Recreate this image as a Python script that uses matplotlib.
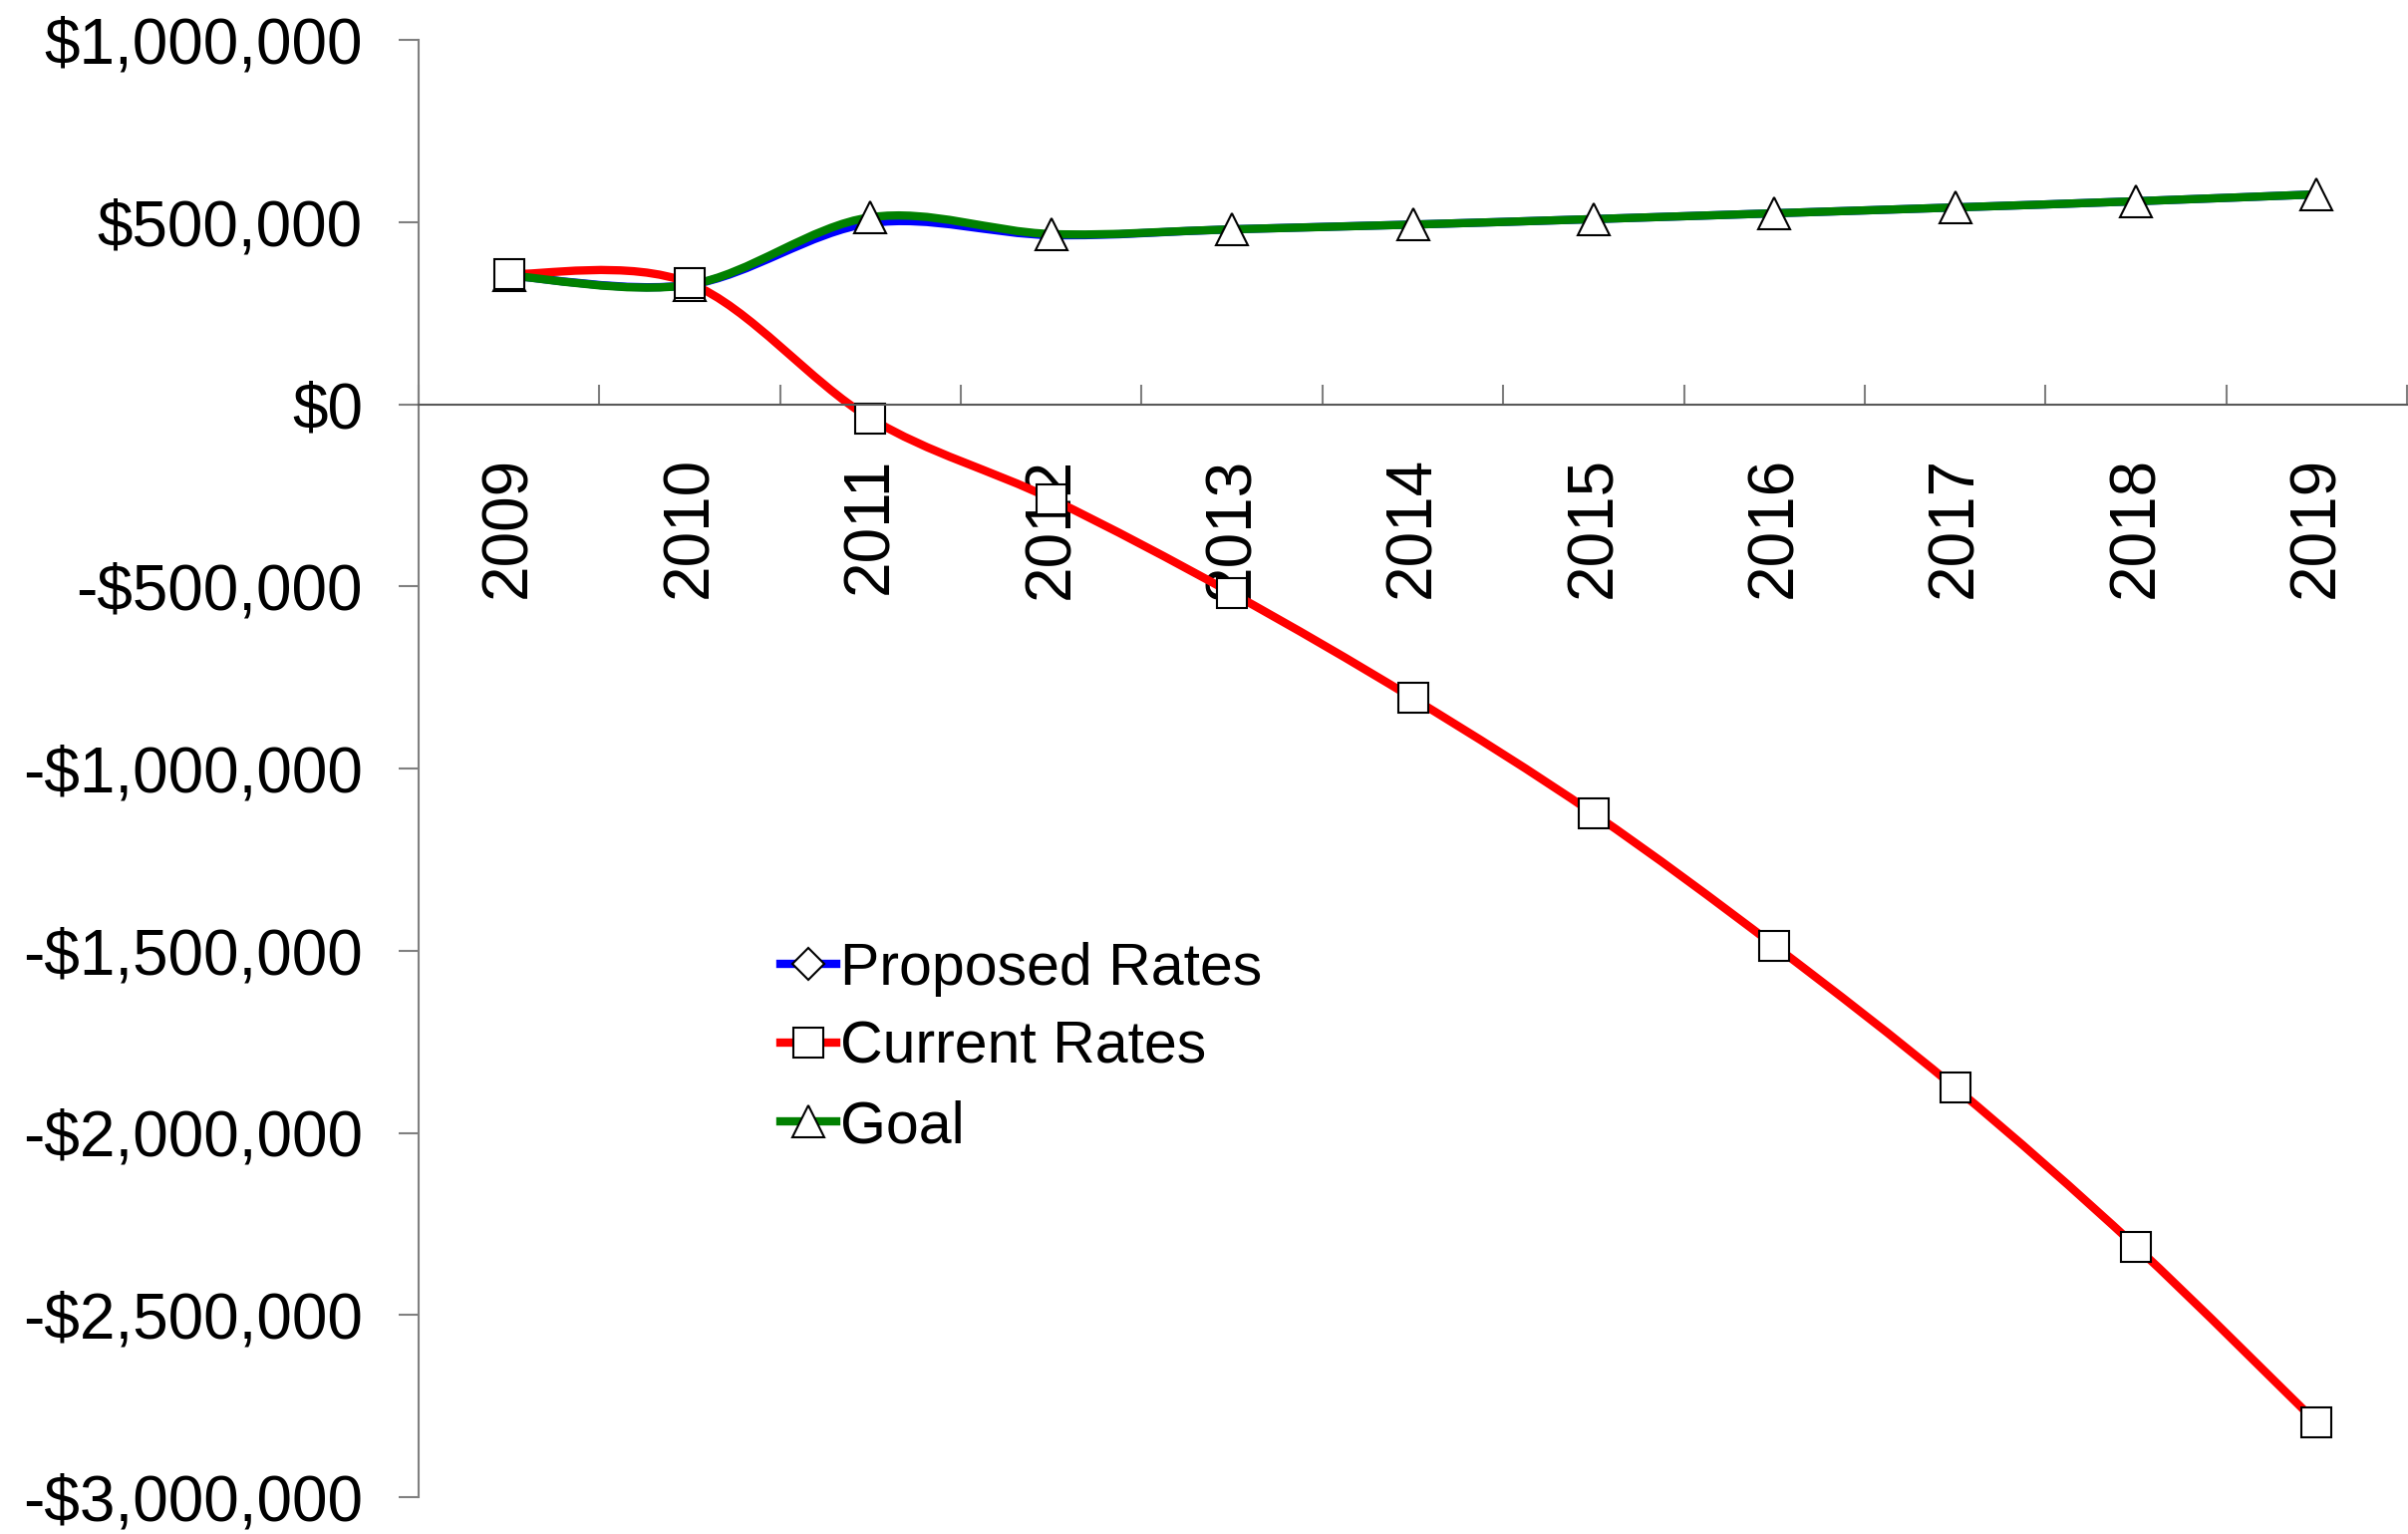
import numpy as np
import matplotlib
matplotlib.use('Agg')
import matplotlib.pyplot as plt
from matplotlib.path import Path
from matplotlib.patches import PathPatch
from matplotlib.lines import Line2D
from matplotlib.ticker import FuncFormatter

plt.rcParams['font.family'] = ['Liberation Sans', 'DejaVu Sans']

# Values (dollars)
years = ['2009', '2010', '2011', '2012', '2013', '2014', '2015', '2016', '2017', '2018', '2019']
proposed = [353000, 328000, 497000, 464000, 480000, 493000, 508000, 524000, 540000, 557000, 576000]
current = [357000, 332000, -39000, -260000, -519000, -807000, -1124000, -1486000, -1876000, -2312000, -2795000]
goal = [353000, 328000, 513000, 467000, 480000, 493000, 508000, 524000, 540000, 557000, 576000]

FS = 46
LEG_FS = 42.5


def smooth_path(xs, ys):
    # Excel-style smoothed line: Catmull-Rom segments as cubic Beziers
    pts = np.column_stack([xs, ys]).astype(float)
    n = len(pts)
    verts = [pts[0]]
    codes = [Path.MOVETO]
    for i in range(n - 1):
        p0 = pts[i - 1] if i > 0 else pts[i]
        p1 = pts[i]
        p2 = pts[i + 1]
        p3 = pts[i + 2] if i + 2 < n else pts[i + 1]
        verts += [p1 + (p2 - p0) / 6.0, p2 - (p3 - p1) / 6.0, p2]
        codes += [Path.CURVE4] * 3
    return Path(verts, codes)


def money(v, pos):
    v = int(round(v))
    if v < 0:
        return '-${:,}'.format(-v)
    return '${:,}'.format(v)


fig = plt.figure(figsize=(24.16, 15.39), dpi=100)
ax = fig.add_axes([420 / 2416, 1 - 1502 / 1539, 1995 / 2416, 1462 / 1539])

x = np.arange(len(years))
LW = 6

for vals, col, z in [(proposed, '#0000FF', 2.0), (current, '#FF0000', 2.1), (goal, '#008000', 2.2)]:
    ax.add_patch(PathPatch(smooth_path(x, vals), fill=False, edgecolor=col, lw=LW,
                           capstyle='butt', joinstyle='round', zorder=z))

ax.plot(x, goal, ls='none', marker='^', ms=23, mfc='white', mec='black', mew=1.5, zorder=2.3)
ax.plot(x, current, ls='none', marker='s', ms=22, mfc='white', mec='black', mew=1.5, zorder=2.4)

ax.set_xlim(-0.5, 10.5)
ax.set_ylim(-3000000, 1000000)

for s in ['top', 'right']:
    ax.spines[s].set_visible(False)
ax.spines['bottom'].set_position(('data', 0))
ax.spines['bottom'].set_color('#595959')
ax.spines['bottom'].set_linewidth(1.5)
ax.spines['left'].set_color('#808080')
ax.spines['left'].set_linewidth(1.5)

ax.set_xticks(np.arange(-0.5, 11, 1))
ax.set_xticklabels([])
ax.tick_params(axis='x', which='major', direction='in', length=14.4, width=1.5, colors='#808080')
ax.set_xticks(x, minor=True)
ax.set_xticklabels(years, minor=True, rotation=90, fontsize=FS)
ax.tick_params(axis='x', which='minor', length=0, pad=38)

ax.set_yticks(np.arange(-3000000, 1000001, 500000))
ax.yaxis.set_major_formatter(FuncFormatter(money))
ax.tick_params(axis='y', direction='out', length=14.4, width=1.5, color='#808080',
               labelsize=FS, pad=26)

handles = [
    Line2D([], [], color='#0000FF', lw=LW, marker='D', ms=16, mfc='white', mec='black', mew=1.5),
    Line2D([], [], color='#FF0000', lw=LW, marker='s', ms=22, mfc='white', mec='black', mew=1.5),
    Line2D([], [], color='#008000', lw=LW, marker='^', ms=23, mfc='white', mec='black', mew=1.5),
]
ax.legend(handles, ['Proposed Rates', 'Current Rates', 'Goal'], loc='upper left',
          bbox_to_anchor=(0.182, 0.3812), frameon=False, fontsize=LEG_FS, borderpad=0,
          borderaxespad=0, handlelength=0.95, handletextpad=0.06, labelspacing=0.41)

fig.savefig('out.png', dpi=100, facecolor='white')
